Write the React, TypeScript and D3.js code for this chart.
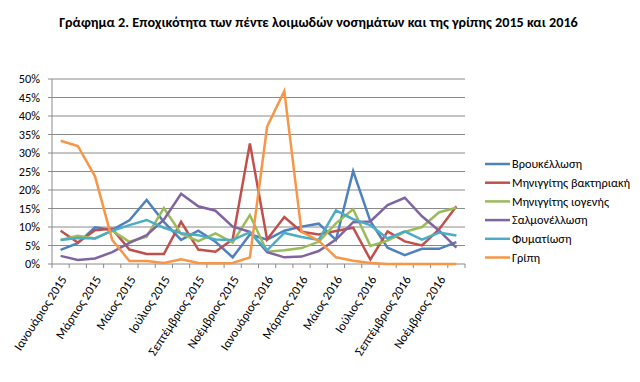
import React from "react";
import * as d3 from "d3";

const months = [
  "Ιανουάριος 2015", "Φεβρουάριος 2015", "Μάρτιος 2015", "Απρίλιος 2015", "Μάιος 2015", "Ιούνιος 2015",
  "Ιούλιος 2015", "Αύγουστος 2015", "Σεπτέμβριος 2015", "Οκτώβριος 2015", "Νοέμβριος 2015", "Δεκέμβριος 2015",
  "Ιανουάριος 2016", "Φεβρουάριος 2016", "Μάρτιος 2016", "Απρίλιος 2016", "Μάιος 2016", "Ιούνιος 2016",
  "Ιούλιος 2016", "Αύγουστος 2016", "Σεπτέμβριος 2016", "Οκτώβριος 2016", "Νοέμβριος 2016", "Δεκέμβριος 2016",
];

const brucellosis = [3.8, 5.6, 9.9, 9.2, 11.8, 17.3, 11.4, 6.5, 9.0, 6.0, 1.8, 8.0, 6.6, 9.0, 10.1, 10.9, 6.5, 25.1, 11.6, 4.4, 2.4, 4.1, 4.1, 5.9];
const meningitisBact = [9.0, 5.8, 9.1, 9.5, 3.9, 2.7, 2.7, 11.4, 3.9, 3.3, 6.7, 32.6, 6.6, 12.7, 8.7, 8.0, 8.9, 9.8, 1.2, 8.8, 6.1, 5.0, 9.4, 15.6];
const meningitisViral = [6.5, 7.6, 6.9, 9.0, 6.0, 7.4, 15.1, 8.2, 6.2, 8.3, 5.8, 13.2, 3.3, 3.7, 4.3, 6.0, 11.0, 14.8, 4.9, 6.3, 8.7, 10.0, 14.0, 15.2];
const salmonellosis = [2.2, 1.1, 1.5, 3.2, 5.7, 7.8, 12.0, 19.0, 15.6, 14.4, 10.1, 8.7, 3.2, 1.8, 2.0, 3.5, 6.6, 11.3, 11.5, 15.9, 17.9, 12.9, 9.0, 4.4];
const tuberculosis = [6.5, 7.0, 6.9, 9.0, 10.5, 11.9, 9.8, 8.3, 7.8, 6.6, 6.5, 8.6, 3.7, 8.4, 7.3, 6.5, 14.5, 12.1, 10.5, 6.9, 8.8, 6.6, 8.5, 7.7];
const influenza = [33.3, 31.9, 23.7, 6.5, 0.8, 0.8, 0.3, 1.3, 0.3, 0.2, 0.3, 1.8, 37.1, 46.7, 8.7, 6.3, 1.8, 0.9, 0.3, 0, 0, 0, 0, 0];

const seriesNames = ["Βρουκέλλωση", "Μηνιγγίτης βακτηριακή", "Μηνιγγίτης ιογενής", "Σαλμονέλλωση", "Φυματίωση", "Γρίπη"];
const seriesValues = [brucellosis, meningitisBact, meningitisViral, salmonellosis, tuberculosis, influenza];
const seriesColors = ["#4F81BD", "#C0504D", "#9BBB59", "#8064A2", "#4BACC6", "#F79646"];

const yTicks = [0, 5, 10, 15, 20, 25, 30, 35, 40, 45, 50];

const title = "Γράφημα 2. Εποχικότητα των πέντε λοιμωδών νοσημάτων και της γρίπης 2015 και 2016";

export default function App() {
  const W = 640, H = 382;
  const left = 52, right = 465, top = 79, bottom = 264;
  const font = "Carlito, 'Liberation Sans', Arial, sans-serif";

  const x = d3.scaleBand<number>().domain(months.map((_, i) => i)).range([left, right]).padding(0);
  const y = d3.scaleLinear().domain([0, 50]).range([bottom, top]);
  const cx = (i: number) => (x(i) as number) + x.bandwidth() / 2;

  const line = d3.line<number>().x((_, i) => cx(i)).y((d) => y(d));

  const boundaries = d3.range(months.length + 1).map((i) => left + i * x.bandwidth());

  return (
    <svg width={W} height={H} style={{ position: "absolute", left: 0, top: 0, background: "#fff" }}>
      <rect x={0} y={0} width={W} height={H} fill="#fff" />
      <text x={318.5} y={27} textAnchor="middle" fontFamily={font} fontWeight="bold" fontSize={14.2} fill="#000">
        {title}
      </text>

      {yTicks.map((t) => (
        <g key={t}>
          <line x1={left - 4} x2={right} y1={y(t)} y2={y(t)} stroke="#8a8a8a" strokeWidth={1} />
          <text x={40} y={y(t)} dy="0.35em" textAnchor="end" fontFamily={font} fontSize={12.3} fill="#000">
            {t + "%"}
          </text>
        </g>
      ))}
      <line x1={left} x2={left} y1={top} y2={bottom} stroke="#8a8a8a" strokeWidth={1} />
      {boundaries.map((bx, i) => (
        <line key={i} x1={bx} x2={bx} y1={bottom} y2={bottom + 4} stroke="#8a8a8a" strokeWidth={1} />
      ))}

      {months.map((m, i) =>
        i % 2 === 0 ? (
          <text
            key={i}
            transform={`translate(${cx(i) + 3},${bottom + 13}) rotate(-57)`}
            textAnchor="end"
            dy="0.35em"
            fontFamily={font}
            fontSize={12.5}
            fill="#000"
          >
            {m}
          </text>
        ) : null
      )}

      {seriesValues.map((vals, s) => (
        <path
          key={s}
          d={line(vals) as string}
          fill="none"
          stroke={seriesColors[s]}
          strokeWidth={2.5}
          strokeLinejoin="miter"
        />
      ))}

      {seriesNames.map((n, s) => {
        const ly = 164 + s * 18.7;
        return (
          <g key={n}>
            <line x1={485} x2={510} y1={ly} y2={ly} stroke={seriesColors[s]} strokeWidth={2.5} />
            <text x={512} y={ly} dy="0.35em" fontFamily={font} fontSize={12.3} fill="#000">
              {n}
            </text>
          </g>
        );
      })}
    </svg>
  );
}
